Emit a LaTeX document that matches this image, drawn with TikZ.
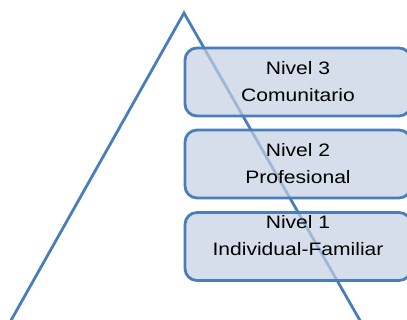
\documentclass[tikz,border=0pt]{standalone}
\usepackage{fontspec}
\setmainfont{Liberation Sans}
\usetikzlibrary{positioning}
\definecolor{lineblue}{RGB}{74,126,187}
\definecolor{boxfill}{RGB}{195,208,225}
\newcommand{\wide}[1]{\scalebox{1.17}[1]{#1}}

\begin{document}
\begin{tikzpicture}[x=1pt, y=-1pt,
  level/.style={draw=lineblue, line width=2.8pt, fill=boxfill, fill opacity=.7,
    rounded corners=12pt, minimum width=226pt, minimum height=68pt, inner sep=0pt},
  lbl/.style={align=center, font=\fontsize{18}{27}\selectfont, text=black}]
\useasboundingbox (0,0) rectangle (407,320);
\clip (0,0) rectangle (407,320);
% triangle
\coordinate (apex) at (184,13);
\coordinate (left) at (9,324);
\coordinate (right) at (362,324);
\draw[lineblue, line width=2.8pt] (left) -- (apex) -- (right);
% levels
\node[level] (n3) at (298,82) {};
\node[level] (n2) at (298,164) {};
\node[level] (n1) at (298,246.5) {};
\node[lbl] (t3) at (298,82) {\wide{Nivel 3}\\\wide{Comunitario}};
\node[lbl] (t2) at (298,164) {\wide{Nivel 2}\\\wide{Profesional}};
\node[lbl] (t1) at (298,235.5) {\wide{Nivel 1}\\\wide{Individual-Familiar}};
\end{tikzpicture}
\end{document}
